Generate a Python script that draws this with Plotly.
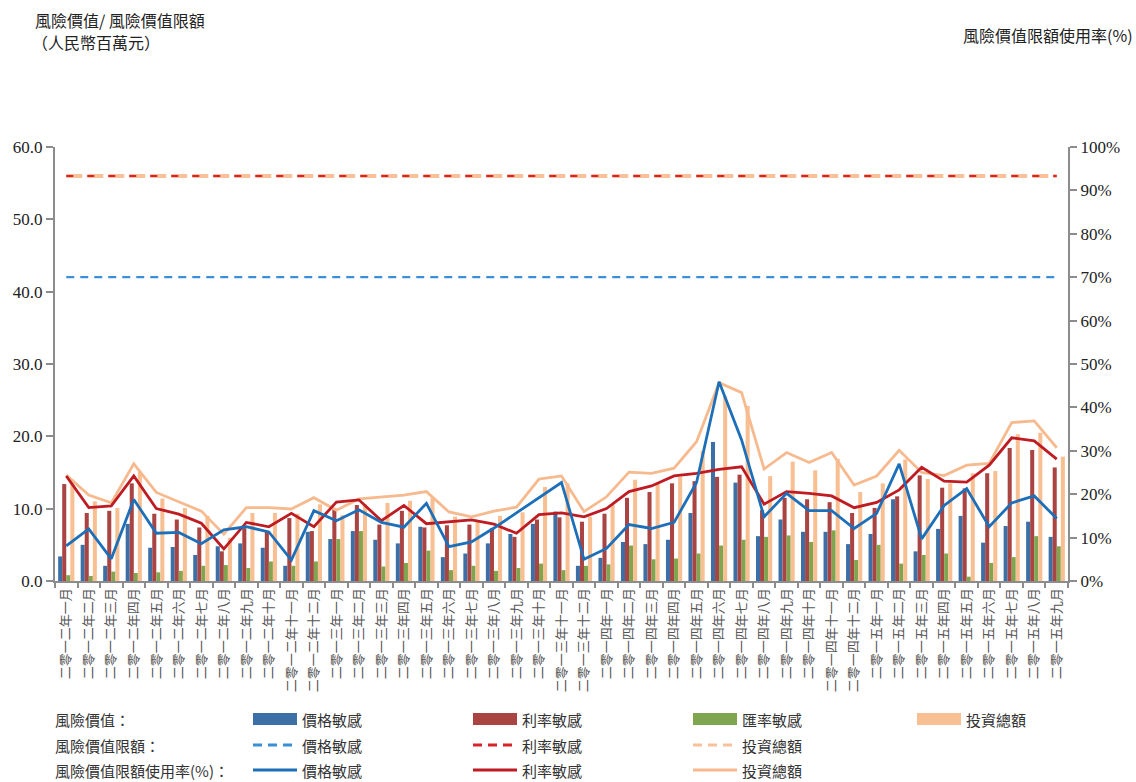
import plotly.graph_objects as go

months = [
    "二零一二年一月", "二零一二年二月", "二零一二年三月", "二零一二年四月", "二零一二年五月", "二零一二年六月",
    "二零一二年七月", "二零一二年八月", "二零一二年九月", "二零一二年十月", "二零一二年十一月", "二零一二年十二月",
    "二零一三年一月", "二零一三年二月", "二零一三年三月", "二零一三年四月", "二零一三年五月", "二零一三年六月",
    "二零一三年七月", "二零一三年八月", "二零一三年九月", "二零一三年十月", "二零一三年十一月", "二零一三年十二月",
    "二零一四年一月", "二零一四年二月", "二零一四年三月", "二零一四年四月", "二零一四年五月", "二零一四年六月",
    "二零一四年七月", "二零一四年八月", "二零一四年九月", "二零一四年十月", "二零一四年十一月", "二零一四年十二月",
    "二零一五年一月", "二零一五年二月", "二零一五年三月", "二零一五年四月", "二零一五年五月", "二零一五年六月",
    "二零一五年七月", "二零一五年八月", "二零一五年九月",
]

# 風險價值 (人民幣百萬元)
var_price = [3.4, 5.0, 2.1, 7.9, 4.6, 4.7, 3.6, 4.8, 5.2, 4.6, 2.1, 6.8,
             5.8, 6.9, 5.7, 5.2, 7.5, 3.3, 3.8, 5.2, 6.5, 7.9, 9.6, 2.1,
             3.2, 5.4, 5.1, 5.7, 9.4, 19.2, 13.6, 6.2, 8.5, 6.8, 6.8, 5.1,
             6.5, 11.3, 4.1, 7.2, 9.0, 5.3, 7.6, 8.2, 6.1]
var_rate = [13.4, 9.4, 9.7, 13.5, 9.3, 8.5, 7.4, 4.1, 7.3, 6.9, 8.7, 6.9,
            10.1, 10.5, 7.8, 9.7, 7.4, 7.7, 7.8, 7.3, 6.1, 8.5, 8.8, 8.2,
            9.3, 11.5, 12.3, 13.5, 13.8, 14.4, 14.7, 9.8, 11.5, 11.3, 10.9, 9.4,
            10.1, 11.7, 14.6, 12.9, 12.8, 14.9, 18.4, 18.1, 15.7]
var_fx = [0.8, 0.7, 1.3, 1.1, 1.2, 1.4, 2.1, 2.2, 1.8, 2.7, 2.1, 2.7,
          5.8, 6.9, 2.0, 2.5, 4.2, 1.5, 2.1, 1.4, 1.8, 2.4, 1.5, 2.1,
          2.3, 4.9, 3.0, 3.1, 3.8, 4.9, 5.7, 6.1, 6.3, 5.4, 7.0, 2.9,
          5.0, 2.4, 3.6, 3.8, 0.6, 2.5, 3.3, 6.2, 4.8]
var_total = [14.0, 11.0, 10.1, 15.1, 11.4, 10.1, 9.0, 6.0, 9.4, 9.4, 9.3, 10.6,
             9.1, 10.6, 10.8, 11.1, 11.5, 8.9, 8.3, 9.0, 9.5, 13.0, 13.5, 8.9,
             10.6, 14.0, 13.6, 14.4, 18.0, 25.5, 24.2, 14.5, 16.5, 15.3, 16.9, 12.3,
             13.5, 16.8, 14.1, 13.5, 14.9, 15.2, 20.3, 20.5, 17.2]

# 風險價值限額
limit_price = [42.0] * 45
limit_rate = [56.0] * 45
limit_total = [56.0] * 45

# 風險價值限額使用率 (%)
use_price = [8.1, 12.0, 5.1, 18.8, 11.0, 11.2, 8.6, 11.8, 12.5, 11.3, 4.8, 16.2,
             13.9, 16.4, 13.5, 12.4, 17.9, 7.9, 9.0, 12.2, 15.7, 19.1, 22.7, 5.0,
             7.5, 13.0, 12.1, 13.5, 22.7, 45.9, 32.5, 14.8, 20.2, 16.2, 16.2, 12.1,
             15.6, 27.0, 9.7, 17.4, 21.3, 12.5, 18.0, 19.6, 14.4]
use_rate = [24.2, 16.9, 17.3, 24.2, 16.7, 15.4, 13.3, 7.4, 13.5, 12.5, 15.6, 12.5,
            18.2, 18.7, 13.9, 17.4, 13.2, 13.7, 14.1, 13.1, 11.0, 15.3, 15.7, 14.8,
            16.7, 20.6, 21.9, 24.2, 24.8, 25.7, 26.3, 17.7, 20.6, 20.2, 19.6, 16.9,
            18.1, 21.0, 26.2, 23.0, 22.8, 26.7, 33.0, 32.3, 28.1]
use_total = [24.4, 19.8, 18.0, 27.0, 20.4, 18.3, 16.1, 10.8, 16.9, 16.9, 16.6, 19.2,
             16.3, 18.9, 19.4, 19.8, 20.6, 15.9, 14.8, 16.1, 17.0, 23.5, 24.2, 16.0,
             19.4, 25.1, 24.8, 26.0, 32.1, 45.7, 43.4, 25.8, 29.6, 27.3, 29.6, 22.1,
             24.2, 30.1, 25.0, 24.3, 26.7, 27.1, 36.5, 36.9, 30.7]

y_ticks = [0, 10, 20, 30, 40, 50, 60]
y2_ticks = [0, 10, 20, 30, 40, 50, 60, 70, 80, 90, 100]

C_BLUE_BAR = "#3C6FA6"
C_RED_BAR = "#A94442"
C_GREEN_BAR = "#7FA54E"
C_ORANGE_BAR = "#F8BF93"
C_BLUE_LINE = "#1C6FB8"
C_RED_LINE = "#BE1B22"
C_ORANGE_LINE = "#F6BA8E"
C_BLUE_DASH = "#3A8FDA"
C_RED_DASH = "#D8232A"
C_ORANGE_DASH = "#F9C09A"

CJK = "Noto Sans CJK TC, Noto Sans CJK SC, sans-serif"
SERIF = "Liberation Serif, DejaVu Serif, serif"

fig = go.Figure()

for name, vals, col in [("價格敏感", var_price, C_BLUE_BAR), ("利率敏感", var_rate, C_RED_BAR),
                        ("匯率敏感", var_fx, C_GREEN_BAR), ("投資總額", var_total, C_ORANGE_BAR)]:
    fig.add_trace(go.Bar(x=months, y=vals, name=name, marker=dict(color=col, line=dict(width=0)),
                         showlegend=False))

# limit lines
fig.add_trace(go.Scatter(x=months, y=limit_price, mode="lines",
                         line=dict(color=C_BLUE_DASH, width=2.2, dash="8px,6px"), showlegend=False))
fig.add_trace(go.Scatter(x=months, y=limit_total, mode="lines",
                         line=dict(color=C_ORANGE_DASH, width=4, dash="16px,5px"), showlegend=False))
fig.add_trace(go.Scatter(x=months, y=limit_rate, mode="lines",
                         line=dict(color=C_RED_DASH, width=2, dash="7px,14px"), showlegend=False))

# usage lines (secondary axis)
for vals, col in [(use_total, C_ORANGE_LINE), (use_rate, C_RED_LINE), (use_price, C_BLUE_LINE)]:
    fig.add_trace(go.Scatter(x=months, y=vals, yaxis="y2", mode="lines",
                             line=dict(color=col, width=2.8), showlegend=False))

W, H = 1136, 782
L, R, T, B = 55, 1068, 147, 581


def px(x):
    return (x - L) / (R - L)


def py(y):
    return (B - y) / (B - T)


shapes = []
annotations = []

# titles
annotations.append(dict(x=px(33), y=py(20), xref="paper", yref="paper", xanchor="left", yanchor="middle",
                        text="風險價值/ 風險價值限額", showarrow=False, font=dict(family=CJK, size=16, color="#222")))
annotations.append(dict(x=px(30), y=py(42), xref="paper", yref="paper", xanchor="left", yanchor="middle",
                        text="（人民幣百萬元）", showarrow=False, font=dict(family=CJK, size=16, color="#222")))
annotations.append(dict(x=px(1135), y=py(35), xref="paper", yref="paper", xanchor="right", yanchor="middle",
                        text="風險價值限額使用率(%)", showarrow=False, font=dict(family=CJK, size=16, color="#222")))

# custom legend
rows_y = [719, 745, 770]
row_labels = ["風險價值：", "風險價值限額：", "風險價值限額使用率(%)："]
cols_x = [253, 473, 693, 917]
for ry, lab in zip(rows_y, row_labels):
    annotations.append(dict(x=px(53), y=py(ry), xref="paper", yref="paper", xanchor="left", yanchor="middle",
                            text=lab, showarrow=False, font=dict(family=CJK, size=15, color="#333")))

legend_rows = [
    [("價格敏感", C_BLUE_BAR, "bar"), ("利率敏感", C_RED_BAR, "bar"),
     ("匯率敏感", C_GREEN_BAR, "bar"), ("投資總額", C_ORANGE_BAR, "bar")],
    [("價格敏感", C_BLUE_DASH, "dash"), ("利率敏感", C_RED_DASH, "dash"), ("投資總額", C_ORANGE_DASH, "dash")],
    [("價格敏感", C_BLUE_LINE, "line"), ("利率敏感", C_RED_LINE, "line"), ("投資總額", C_ORANGE_LINE, "line")],
]
for ry, items in zip(rows_y, legend_rows):
    for cx, (lab, col, kind) in zip(cols_x, items):
        if kind == "bar":
            shapes.append(dict(type="rect", xref="paper", yref="paper", x0=px(cx), x1=px(cx + 44),
                               y0=py(ry + 6), y1=py(ry - 6), fillcolor=col, line=dict(width=0)))
        elif kind == "dash":
            shapes.append(dict(type="line", xref="paper", yref="paper", x0=px(cx), x1=px(cx + 44),
                               y0=py(ry), y1=py(ry), line=dict(color=col, width=3, dash="9px,6px")))
        else:
            shapes.append(dict(type="line", xref="paper", yref="paper", x0=px(cx), x1=px(cx + 44),
                               y0=py(ry), y1=py(ry), line=dict(color=col, width=3)))
        annotations.append(dict(x=px(cx + 47), y=py(ry), xref="paper", yref="paper", xanchor="left",
                                yanchor="middle", text=lab, showarrow=False,
                                font=dict(family=CJK, size=15, color="#333")))

fig.update_layout(
    width=W, height=H,
    margin=dict(l=L, r=W - R, t=T, b=H - B, pad=0),
    paper_bgcolor="white", plot_bgcolor="white",
    barmode="group", bargap=0.28, bargroupgap=0,
    showlegend=False,
    shapes=shapes, annotations=annotations,
    xaxis=dict(type="category", showline=True, linecolor="#8c8c8c", linewidth=2,
               ticks="outside", tickson="boundaries", ticklen=5, tickcolor="#8c8c8c", tickwidth=1.5,
               tickangle=-90, tickfont=dict(family=CJK, size=13, color="#555"),
               showgrid=False, zeroline=False),
    yaxis=dict(range=[0, 60], tickvals=y_ticks, ticktext=[f"{v:.1f}" for v in y_ticks],
               showline=True, linecolor="#8c8c8c", linewidth=2, ticks="outside", ticklen=7,
               tickcolor="#8c8c8c", tickwidth=1.5, tickfont=dict(family=SERIF, size=17, color="#222"),
               showgrid=False, zeroline=False),
    yaxis2=dict(range=[0, 100], overlaying="y", side="right", tickvals=y2_ticks,
                ticktext=[f"{v}%" for v in y2_ticks], showline=True, linecolor="#8c8c8c", linewidth=2,
                ticks="outside", ticklen=7, tickcolor="#8c8c8c", tickwidth=1.5,
                tickfont=dict(family=SERIF, size=17, color="#222"), showgrid=False, zeroline=False),
)

fig.write_html("out.html", config={"displayModeBar": False},
               post_script="document.body.style.margin='0';document.body.style.overflow='hidden';")
